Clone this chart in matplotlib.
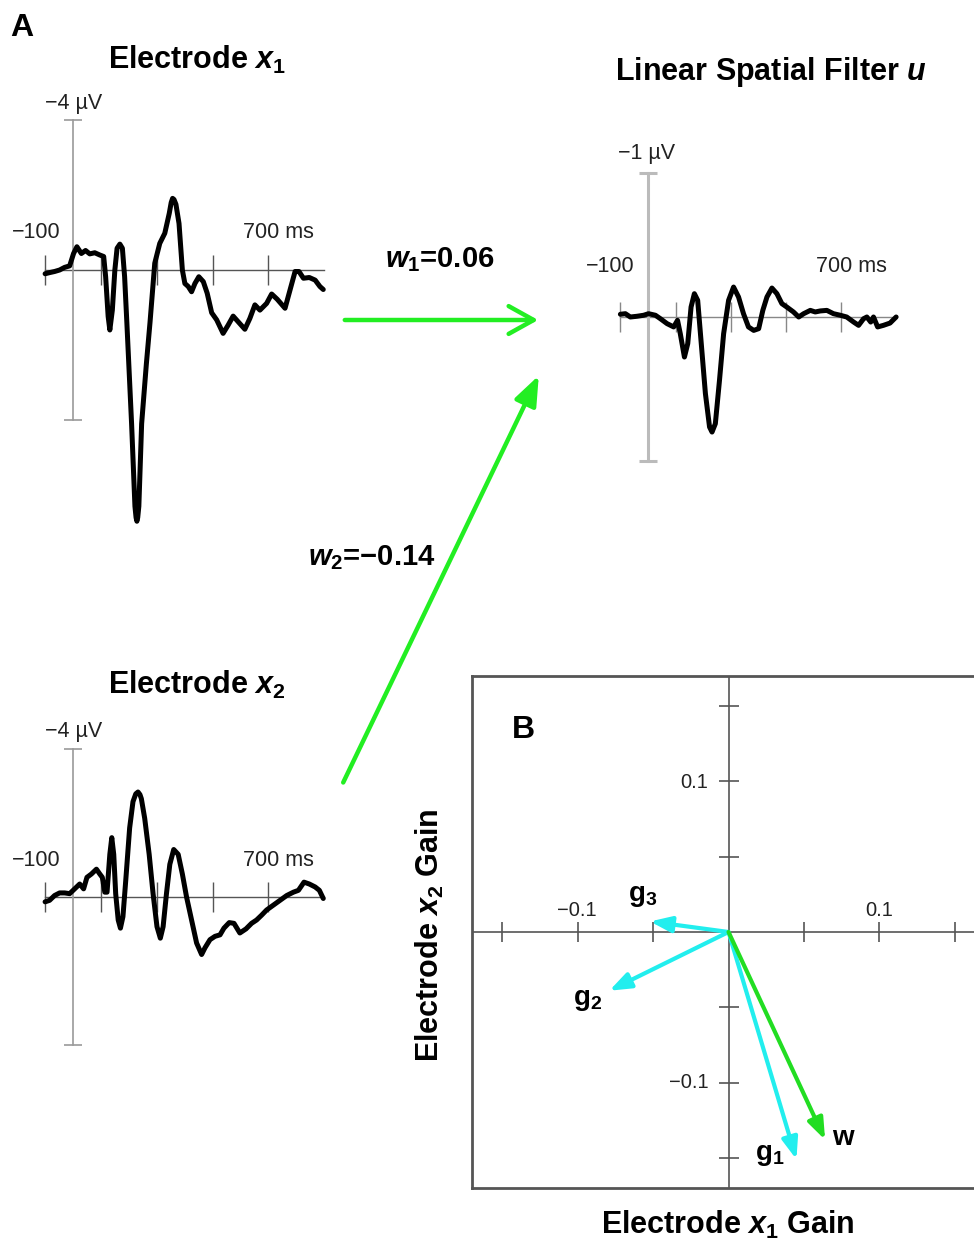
import numpy as np
import matplotlib
matplotlib.use("Agg")
import matplotlib.pyplot as plt

plt.rcParams['font.family'] = ['Liberation Sans', 'DejaVu Sans']
plt.rcParams['mathtext.fontset'] = 'custom'
plt.rcParams['mathtext.it'] = 'Liberation Sans:italic:bold'
plt.rcParams['mathtext.rm'] = 'Liberation Sans:bold'
plt.rcParams['mathtext.bf'] = 'Liberation Sans:bold'

# Electrode x1 waveform (ms, microvolts; negative plotted upward)
t_x1 = [-100, -84, -66, -48, -30, -12, 2, 14, 30, 45, 60, 78, 96, 110, 117, 126,
        132, 141, 150, 158, 168, 177, 185, 193, 210, 222, 226, 229, 232, 236,
        246, 263, 276, 293, 311, 329, 345, 352, 357, 362, 369, 380, 392, 401,
        413, 425, 437, 451, 467, 481, 497, 515, 538, 556, 574, 592, 616, 634,
        652, 670, 694, 712, 732, 760, 778, 796, 810, 826, 847, 868, 885, 897]
v_x1 = [0.10, 0.07, 0.04, 0.0, -0.07, -0.11, -0.44, -0.62, -0.44, -0.52, -0.43,
        -0.46, -0.40, -0.36, 0.18, 1.24, 1.60, 1.07, 0.0, -0.58, -0.69, -0.58,
        0.18, 1.40, 4.10, 6.30, 6.60, 6.70, 6.60, 6.30, 4.10, 2.50, 1.40,
        -0.18, -0.71, -0.98, -1.51, -1.80, -1.91, -1.88, -1.75, -1.24, 0.0,
        0.36, 0.44, 0.58, 0.36, 0.18, 0.31, 0.62, 1.14, 1.33, 1.69, 1.47, 1.23,
        1.38, 1.58, 1.29, 0.93, 1.07, 0.89, 0.64, 0.78, 1.02, 0.53, 0.04, 0.04,
        0.22, 0.20, 0.27, 0.44, 0.52]

# Electrode x2 waveform
t_x2 = [-100, -84, -66, -48, -30, -12, 6, 24, 38, 50, 66, 84, 96, 105, 114, 122,
        132, 139, 146, 153, 162, 170, 179, 189, 203, 215, 225, 233, 240, 245,
        257, 273, 287, 301, 313, 323, 335, 347, 361, 377, 392, 407, 425, 443,
        461, 473, 491, 509, 527, 541, 560, 577, 598, 620, 640, 658, 676, 694,
        718, 742, 766, 790, 808, 828, 847, 868, 883, 897]
v_x2 = [0.13, 0.09, -0.04, -0.11, -0.11, -0.09, -0.22, -0.35, -0.22, -0.53,
        -0.62, -0.75, -0.62, -0.53, -0.13, -0.13, -1.15, -1.60, -1.15, -0.09,
        0.62, 0.84, 0.53, -0.44, -1.86, -2.57, -2.78, -2.83, -2.76, -2.65,
        -2.12, -1.15, -0.09, 0.80, 1.11, 0.80, -0.09, -0.88, -1.28, -1.15,
        -0.62, 0.0, 0.62, 1.24, 1.55, 1.37, 1.15, 1.06, 1.02, 0.84, 0.69, 0.71,
        0.97, 0.86, 0.71, 0.62, 0.49, 0.35, 0.22, 0.09, -0.04, -0.13, -0.18,
        -0.40, -0.35, -0.27, -0.18, 0.04]

# Linear spatial filter output u
t_u = [-100, -82, -64, -40, -16, 2, 27, 45, 69, 93, 107, 117, 132, 144, 156,
       168, 180, 192, 208, 223, 232, 244, 259, 274, 292, 310, 328, 346, 364,
       383, 401, 416, 431, 449, 467, 485, 503, 527, 546, 564, 588, 606, 624,
       648, 672, 697, 720, 745, 763, 781, 793, 807, 817, 832, 853, 877, 899]
v_u = [-0.019, -0.023, 0.0, -0.005, -0.012, -0.023, -0.012, 0.012, 0.046,
       0.069, 0.023, 0.116, 0.278, 0.185, -0.069, -0.162, -0.116, 0.162, 0.532,
       0.764, 0.799, 0.741, 0.440, 0.116, -0.116, -0.208, -0.139, -0.023,
       0.069, 0.093, 0.081, -0.046, -0.139, -0.201, -0.162, -0.093, -0.069,
       -0.035, 0.0, -0.023, -0.046, -0.035, -0.042, -0.046, -0.023, -0.012,
       0.0, 0.035, 0.058, 0.012, 0.0, 0.035, 0.0, 0.069, 0.058, 0.042, 0.0]

time_ticks = [-100, 100, 300, 500, 700]

# Panel B gain vectors (x1 gain, x2 gain)
vec_names = ['g1', 'g2', 'g3', 'w']
vec_x1 = [0.045, -0.079, -0.052, 0.064]
vec_x2 = [-0.151, -0.039, 0.007, -0.138]
vec_colors = ['#22eeee', '#22eeee', '#22eeee', '#22dd22']
gain_ticks = [-0.15, -0.10, -0.05, 0.05, 0.10, 0.15]

W, H = 974, 1249
fig = plt.figure(figsize=(W / 100, H / 100), dpi=100)


def fx(x):
    return x / W


def fy(y):
    return 1 - y / H


def ftext(x, y, s, **kw):
    kw.setdefault('ha', 'center')
    kw.setdefault('va', 'center')
    fig.text(fx(x), fy(y), s, **kw)


def wave_axes(left, top, width, height, t0, v0, px_ms, px_uv):
    ax = fig.add_axes([fx(left), fy(top + height), width / W, height / H])
    ax.set_xlim((left - t0) / px_ms, (left + width - t0) / px_ms)
    ax.set_ylim((top + height - v0) / px_uv, (top - v0) / px_uv)
    ax.axis('off')
    return ax


def draw_wave(ax, t, v, vmax, vcol, vlw, hcol):
    ax.plot([-100, 900], [0, 0], color=hcol, lw=1.0, zorder=1)
    ax.plot([0, 0], [-vmax, vmax], color=vcol, lw=vlw, zorder=1)
    ax.plot([0, 0], [-vmax, vmax], '_', ms=13, mew=vlw, color=vcol, zorder=1)
    ax.plot(time_ticks, [0] * len(time_ticks), '|', ms=22, mew=1.0,
            color=hcol, zorder=1)
    ax.plot(t, v, color='black', lw=3.6, solid_joinstyle='round',
            solid_capstyle='round', zorder=3)


ax1 = wave_axes(0, 95, 340, 450, 73, 270, 0.279, 37.5)
draw_wave(ax1, t_x1, v_x1, 4, '#9a9a9a', 1.2, '#555555')

ax2 = wave_axes(0, 720, 340, 340, 73, 897, 0.279, 37.1)
draw_wave(ax2, t_x2, v_x2, 4, '#9a9a9a', 1.2, '#555555')

ax3 = wave_axes(580, 140, 394, 340, 648, 317, 0.276, 144)
draw_wave(ax3, t_u, v_u, 1, '#bbbbbb', 2.2, '#888888')

title_kw = dict(fontsize=22, fontweight='bold')
lab_kw = dict(fontsize=15.5, color='#222222')

ftext(22, 28, 'A', fontsize=23, fontweight='bold')
ftext(197, 60, r'Electrode $x_\mathit{1}$', **title_kw)
ftext(197, 685, r'Electrode $x_\mathit{2}$', **title_kw)
ftext(771, 72, r'Linear Spatial Filter $u$', **title_kw)

for (xv, yv, xl, xr, yl, unit) in [(74, 104, 36, 278, 233, '−4 µV'),
                                   (74, 731, 36, 278, 860, '−4 µV'),
                                   (647, 154, 610, 851, 267, '−1 µV')]:
    ftext(xv, yv, unit, **lab_kw)
    ftext(xl, yl, '−100', **lab_kw)
    ftext(xr, yl, '700 ms', **lab_kw)

# green arrows linking electrodes to the filter
green = '#22ee22'
fig.patches.append(matplotlib.patches.FancyArrowPatch(
    (fx(342), fy(320)), (fx(541), fy(320)), transform=fig.transFigure,
    arrowstyle='->,head_length=0.9,head_width=0.5', mutation_scale=20,
    color=green, lw=3.2))
fig.patches.append(matplotlib.patches.FancyArrowPatch(
    (fx(342), fy(785)), (fx(540), fy(373)), transform=fig.transFigure,
    arrowstyle='-|>,head_length=0.9,head_width=0.35', mutation_scale=20,
    color=green, lw=3.2))
ftext(440, 260, r'$w_\mathit{1}$=0.06', fontsize=21, fontweight='bold')
ftext(372, 558, r'$w_\mathit{2}$=−0.14', fontsize=21, fontweight='bold')

# Panel B
axb = fig.add_axes([fx(472), fy(1188), (976 - 472) / W, (1188 - 676) / H])
axb.set_xlim(-0.170, 0.164)
axb.set_ylim(-0.170, 0.170)
axb.set_xticks([])
axb.set_yticks([])
for side in ['left', 'top', 'bottom']:
    axb.spines[side].set_color('#555555')
    axb.spines[side].set_linewidth(2.0)
axb.spines['right'].set_visible(False)

axb.axhline(0, color='#555555', lw=1.2, zorder=1)
axb.axvline(0, color='#555555', lw=1.2, zorder=1)
axb.plot(gain_ticks, [0] * len(gain_ticks), '|', ms=14, mew=1.2,
         color='#555555', zorder=1)
axb.plot([0] * len(gain_ticks), gain_ticks, '_', ms=14, mew=1.2,
         color='#555555', zorder=1)

for name, gx, gy, col in zip(vec_names, vec_x1, vec_x2, vec_colors):
    axb.annotate('', xy=(gx, gy), xytext=(0, 0),
                 arrowprops=dict(arrowstyle='-|>,head_length=0.8,head_width=0.3',
                                 color=col, lw=3.0, mutation_scale=16,
                                 shrinkA=0, shrinkB=0), zorder=3)

tick_kw = dict(fontsize=14.5, color='#222222')
ftext(694, 783, '0.1', **tick_kw)
ftext(689, 1083, '−0.1', **tick_kw)
ftext(577, 911, '−0.1', **tick_kw)
ftext(879, 911, '0.1', **tick_kw)

ftext(523, 730, 'B', fontsize=23, fontweight='bold')
glab_kw = dict(fontsize=20, fontweight='bold')
ftext(643, 896, r'g$_3$', **glab_kw)
ftext(588, 1000, r'g$_2$', **glab_kw)
ftext(770, 1155, r'g$_1$', **glab_kw)
ftext(843, 1138, 'w', **glab_kw)

ftext(430, 935, r'Electrode $x_\mathit{2}$ Gain', rotation=90, **title_kw)
ftext(728, 1225, r'Electrode $x_\mathit{1}$ Gain', **title_kw)

fig.savefig('out.png', dpi=100)
